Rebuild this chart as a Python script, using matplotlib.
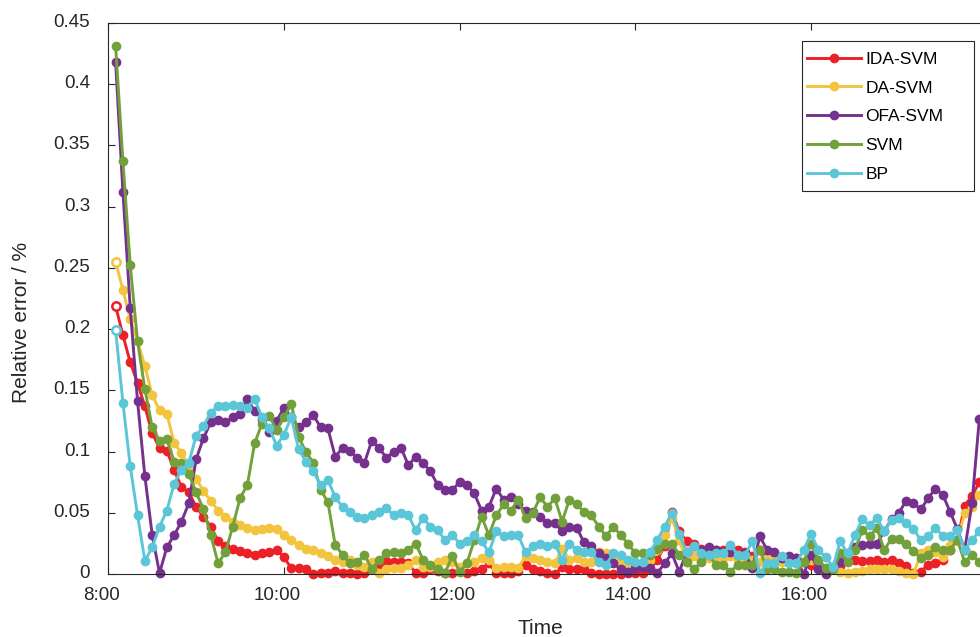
import numpy as np
import pandas as pd
import matplotlib
matplotlib.use('agg')
import matplotlib.pyplot as plt
from matplotlib.patches import Rectangle
from matplotlib.ticker import FixedLocator, FuncFormatter
from matplotlib.transforms import ScaledTranslation

plt.rcParams['font.family'] = ['Liberation Sans', 'DejaVu Sans']

# 5 minute samples, 08:05 .. 17:55
times = pd.date_range('2020-01-01 08:05', '2020-01-01 17:55', freq='5min')
hours = times.hour + times.minute / 60.0

ida_svm = [0.219, 0.195, 0.173, 0.156, 0.137, 0.115, 0.103, 0.101, 0.085, 0.071,
           0.067, 0.055, 0.047, 0.039, 0.027, 0.023, 0.021, 0.019, 0.017, 0.016,
           0.017, 0.018, 0.020, 0.014, 0.005, 0.005, 0.004, 0.000, 0.001, 0.001,
           0.003, 0.001, 0.001, 0.000, 0.001, 0.004, 0.008, 0.011, 0.010, 0.010,
           0.009, 0.001, 0.001, 0.004, 0.003, 0.001, 0.001, 0.003, 0.001, 0.003,
           0.004, 0.009, 0.001, 0.001, 0.001, 0.003, 0.008, 0.004, 0.003, 0.001,
           0.000, 0.006, 0.004, 0.004, 0.004, 0.001, 0.000, 0.000, 0.000, 0.000,
           0.001, 0.001, 0.001, 0.004, 0.012, 0.023, 0.051, 0.035, 0.027, 0.025,
           0.021, 0.021, 0.020, 0.020, 0.021, 0.020, 0.018, 0.015, 0.020, 0.014,
           0.012, 0.013, 0.012, 0.013, 0.010, 0.008, 0.006, 0.004, 0.005, 0.007,
           0.014, 0.012, 0.011, 0.011, 0.012, 0.010, 0.012, 0.009, 0.007, 0.001,
           0.002, 0.008, 0.009, 0.012, 0.020, 0.028, 0.056, 0.064, 0.075]

da_svm = [0.255, 0.232, 0.208, 0.190, 0.170, 0.146, 0.134, 0.131, 0.107, 0.099,
          0.089, 0.078, 0.068, 0.060, 0.052, 0.047, 0.043, 0.040, 0.038, 0.036,
          0.037, 0.038, 0.037, 0.032, 0.028, 0.024, 0.021, 0.020, 0.017, 0.015,
          0.012, 0.010, 0.012, 0.008, 0.006, 0.010, 0.001, 0.004, 0.005, 0.005,
          0.008, 0.012, 0.006, 0.006, 0.010, 0.012, 0.010, 0.006, 0.009, 0.010,
          0.013, 0.012, 0.005, 0.006, 0.006, 0.005, 0.015, 0.013, 0.012, 0.010,
          0.009, 0.021, 0.012, 0.013, 0.010, 0.010, 0.018, 0.017, 0.012, 0.010,
          0.008, 0.006, 0.008, 0.012, 0.020, 0.032, 0.046, 0.028, 0.010, 0.015,
          0.013, 0.013, 0.013, 0.013, 0.015, 0.012, 0.010, 0.012, 0.010, 0.013,
          0.012, 0.010, 0.012, 0.013, 0.010, 0.012, 0.010, 0.005, 0.006, 0.002,
          0.001, 0.002, 0.003, 0.004, 0.004, 0.004, 0.004, 0.003, 0.001, 0.000,
          0.017, 0.020, 0.018, 0.014, 0.024, 0.028, 0.050, 0.055, 0.065]

ofa_svm = [0.418, 0.312, 0.217, 0.141, 0.080, 0.032, 0.001, 0.022, 0.032, 0.043,
           0.058, 0.094, 0.111, 0.124, 0.126, 0.124, 0.128, 0.131, 0.143, 0.133,
           0.127, 0.116, 0.125, 0.136, 0.128, 0.120, 0.124, 0.130, 0.120, 0.119,
           0.096, 0.103, 0.101, 0.095, 0.091, 0.109, 0.103, 0.095, 0.100, 0.103,
           0.089, 0.096, 0.091, 0.084, 0.073, 0.069, 0.069, 0.075, 0.073, 0.066,
           0.052, 0.055, 0.070, 0.061, 0.063, 0.057, 0.052, 0.051, 0.047, 0.042,
           0.042, 0.035, 0.039, 0.038, 0.026, 0.023, 0.017, 0.013, 0.009, 0.004,
           0.002, 0.005, 0.006, 0.005, 0.001, 0.009, 0.017, 0.002, 0.018, 0.023,
           0.020, 0.022, 0.020, 0.018, 0.018, 0.016, 0.017, 0.005, 0.031, 0.020,
           0.018, 0.013, 0.015, 0.013, 0.000, 0.016, 0.004, 0.000, 0.006, 0.010,
           0.017, 0.022, 0.024, 0.025, 0.025, 0.035, 0.045, 0.050, 0.060, 0.058,
           0.053, 0.062, 0.070, 0.065, 0.051, 0.037, 0.020, 0.058, 0.127]

svm = [0.431, 0.337, 0.252, 0.190, 0.151, 0.120, 0.109, 0.110, 0.092, 0.091,
       0.082, 0.067, 0.053, 0.032, 0.009, 0.018, 0.039, 0.062, 0.073, 0.107,
       0.123, 0.129, 0.118, 0.128, 0.139, 0.112, 0.100, 0.091, 0.069, 0.059,
       0.024, 0.016, 0.009, 0.010, 0.016, 0.004, 0.012, 0.017, 0.018, 0.017,
       0.020, 0.025, 0.012, 0.008, 0.004, 0.001, 0.015, 0.002, 0.009, 0.028,
       0.047, 0.032, 0.048, 0.057, 0.052, 0.061, 0.046, 0.050, 0.063, 0.055,
       0.062, 0.043, 0.061, 0.057, 0.051, 0.048, 0.039, 0.031, 0.039, 0.032,
       0.025, 0.017, 0.017, 0.016, 0.021, 0.025, 0.025, 0.016, 0.010, 0.004,
       0.010, 0.016, 0.008, 0.008, 0.002, 0.008, 0.008, 0.008, 0.020, 0.004,
       0.004, 0.002, 0.002, 0.001, 0.010, 0.025, 0.012, 0.005, 0.004, 0.017,
       0.010, 0.020, 0.036, 0.031, 0.038, 0.020, 0.029, 0.029, 0.025, 0.019,
       0.013, 0.016, 0.022, 0.020, 0.020, 0.028, 0.010, 0.016, 0.010]

bp = [0.199, 0.140, 0.088, 0.048, 0.011, 0.022, 0.039, 0.052, 0.074, 0.085,
      0.091, 0.113, 0.121, 0.132, 0.137, 0.137, 0.138, 0.137, 0.136, 0.143,
      0.128, 0.119, 0.105, 0.114, 0.128, 0.102, 0.092, 0.084, 0.073, 0.077,
      0.063, 0.055, 0.051, 0.047, 0.046, 0.048, 0.051, 0.054, 0.048, 0.050,
      0.048, 0.036, 0.046, 0.039, 0.036, 0.028, 0.032, 0.025, 0.027, 0.032,
      0.027, 0.018, 0.035, 0.031, 0.032, 0.032, 0.018, 0.023, 0.025, 0.023,
      0.025, 0.012, 0.025, 0.020, 0.018, 0.018, 0.010, 0.008, 0.017, 0.016,
      0.012, 0.010, 0.010, 0.018, 0.028, 0.039, 0.050, 0.033, 0.018, 0.023,
      0.017, 0.016, 0.017, 0.017, 0.024, 0.016, 0.016, 0.027, 0.001, 0.009,
      0.009, 0.015, 0.009, 0.009, 0.020, 0.033, 0.020, 0.014, 0.006, 0.027,
      0.017, 0.032, 0.045, 0.040, 0.046, 0.035, 0.044, 0.046, 0.042, 0.037,
      0.028, 0.031, 0.038, 0.031, 0.031, 0.036, 0.020, 0.028, 0.035]

names = ['IDA-SVM', 'DA-SVM', 'OFA-SVM', 'SVM', 'BP']
series = [ida_svm, da_svm, ofa_svm, svm, bp]
colors = ['#EC2027', '#F3C43D', '#76308E', '#72A13B', '#5BC6D7']
hollow_first = [True, True, False, False, True]

tick_lbls = ['8:00', '10:00', '12:00', '14:00', '16:00']
tick_pos = [8, 10, 12, 14, 16]

W, H = 980, 637
fig = plt.figure(figsize=(9.8, 6.37), dpi=100)
# axes runs a little past the right edge of the picture, like the original crop
ax = fig.add_axes([0.1105, 0.0984, 0.8963, 0.866])

for name, vals, col, hol in zip(names, series, colors, hollow_first):
    ax.plot(hours, vals, '-o', color=col, lw=2.1, ms=6, mec=col, mfc=col,
            label=name, clip_on=False)
    if hol:
        ax.plot(hours[:1], vals[:1], 'o', ms=6, mec=col, mfc='white', mew=1.8,
                clip_on=False)

ax.set_xlim(8, 18)
ax.set_ylim(0, 0.45)
ax.xaxis.set_major_locator(FixedLocator(tick_pos))
ax.set_xticklabels(tick_lbls)
ax.set_yticks(np.arange(0, 0.451, 0.05))
ax.yaxis.set_major_formatter(FuncFormatter(lambda v, p: '%g' % round(v, 2)))

ax.tick_params(direction='in', top=True, right=True, length=5, width=0.8,
               colors='#262626', labelsize=13.5)
ax.tick_params(axis='x', pad=9)
ax.tick_params(axis='y', pad=13)
for sp in ax.spines.values():
    sp.set_color('#262626')
    sp.set_linewidth(0.8)

# labels in the original sit slightly up/left of their ticks
for lb in ax.get_xticklabels():
    lb.set_transform(lb.get_transform() + ScaledTranslation(-0.07, 0, fig.dpi_scale_trans))
for lb in ax.get_yticklabels():
    lb.set_transform(lb.get_transform() + ScaledTranslation(0, 0.025, fig.dpi_scale_trans))

ax.set_xlabel('Time', fontsize=15, color='#262626')
ax.set_ylabel('Relative error / %', fontsize=15, color='#262626')
ax.xaxis.set_label_coords((540 - 108.3) / 878.4, -(619 - 574.3) / 551.6)
ax.yaxis.set_label_coords(-(108.3 - 31.5) / 878.4, (574.3 - 322) / 551.6)

# legend box drawn by hand so it matches the original size
box = Rectangle((801.7 / W, 1 - 190.7 / H), 172.3 / W, 150 / H,
                transform=fig.transFigure, facecolor='white',
                edgecolor='#262626', lw=0.8, zorder=4, clip_on=False)
ax.add_patch(box)
leg = ax.legend(loc='upper left', bbox_to_anchor=(807 / W, 1 - 51.5 / H),
                bbox_transform=fig.transFigure, fontsize=12.5, frameon=False,
                borderpad=0, handlelength=3.1, handletextpad=0.25,
                labelspacing=0.79, borderaxespad=0)
leg.set_zorder(6)

plt.savefig('out.png', dpi=100)
